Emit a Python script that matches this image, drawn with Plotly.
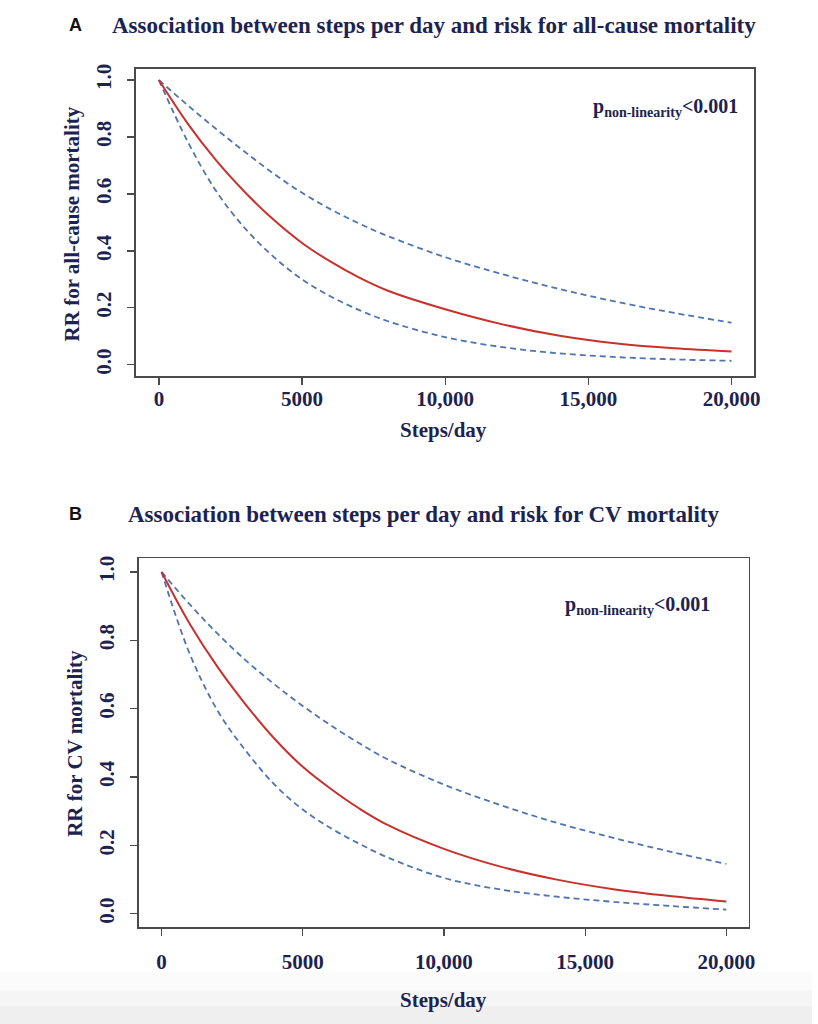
import plotly.graph_objects as go

W, H = 818, 1024

# ---------------- data ----------------
steps = [0, 1000, 2000, 3000, 4000, 5000, 6000, 7000, 8000, 10000, 12000, 14000, 16000, 18000, 20000]

# Panel A: all-cause mortality
rr_all = [1.0, 0.848, 0.718, 0.607, 0.51, 0.428, 0.362, 0.306, 0.26, 0.195, 0.142, 0.102, 0.075, 0.058, 0.047]
rr_all_upper = [1.0, 0.912, 0.828, 0.748, 0.672, 0.604, 0.546, 0.496, 0.452, 0.378, 0.318, 0.266, 0.221, 0.182, 0.148]
rr_all_lower = [1.0, 0.785, 0.61, 0.48, 0.38, 0.30, 0.24, 0.192, 0.153, 0.097, 0.062, 0.04, 0.027, 0.019, 0.014]

# Panel B: CV mortality
rr_cv = [1.0, 0.848, 0.72, 0.61, 0.512, 0.43, 0.365, 0.308, 0.26, 0.19, 0.138, 0.10, 0.072, 0.052, 0.036]
rr_cv_upper = [1.0, 0.905, 0.818, 0.74, 0.671, 0.608, 0.551, 0.499, 0.452, 0.378, 0.318, 0.266, 0.222, 0.182, 0.146]
rr_cv_lower = [1.0, 0.76, 0.592, 0.475, 0.378, 0.305, 0.25, 0.205, 0.165, 0.105, 0.071, 0.05, 0.035, 0.023, 0.012]

x_ticks = [0, 5000, 10000, 15000, 20000]
x_tick_labels = ["0", "5000", "10,000", "15,000", "20,000"]
y_ticks = [0.0, 0.2, 0.4, 0.6, 0.8, 1.0]
y_tick_labels = ["0.0", "0.2", "0.4", "0.6", "0.8", "1.0"]

title_a = "Association between steps per day and risk for all-cause mortality"
title_b = "Association between steps per day and risk for CV mortality"
ylab_a = "RR for all-cause mortality"
ylab_b = "RR for CV mortality"
xlab = "Steps/day"
p_text = "p<sub>non-linearity</sub><0.001"

# ---------------- style ----------------
NAVY = "#1d2350"
RED = "#c8312c"
BLUE = "#4f74b0"
AXC = "#4a4a4a"
SERIF = "Liberation Serif, Times New Roman, serif"


def px(x):
    return x / W


def py(y):
    return 1 - y / H


def bold(labels):
    return ["<b>" + t + "</b>" for t in labels]


fig = go.Figure()

panels = [
    ("x", "y", rr_all, rr_all_upper, rr_all_lower),
    ("x2", "y2", rr_cv, rr_cv_upper, rr_cv_lower),
]
for xa, ya, mid, up, lo in panels:
    for vals, color, dash in [(up, BLUE, "6px,4px"), (lo, BLUE, "6px,4px"), (mid, RED, "solid")]:
        fig.add_trace(go.Scatter(
            x=steps, y=vals, xaxis=xa, yaxis=ya, mode="lines",
            line=dict(color=color, width=2 if dash == "solid" else 1.8, dash=dash,
                      shape="spline", smoothing=1.0),
            showlegend=False, hoverinfo="skip"))

axis_common = dict(
    showgrid=False, zeroline=False, showline=True, mirror=True,
    linecolor=AXC, linewidth=1.5, ticks="outside", ticklen=7, tickwidth=1.3,
    tickcolor=AXC, tickfont=dict(family=SERIF, size=21, color=NAVY),
)

fig.update_layout(
    width=W, height=H, margin=dict(l=0, r=0, t=0, b=0),
    paper_bgcolor="white", plot_bgcolor="white",
    xaxis=dict(domain=[px(137), px(760)], range=[-800, 20800], anchor="y",
               tickvals=x_ticks, ticktext=bold(x_tick_labels), ticklabelstandoff=-4, **axis_common),
    yaxis=dict(domain=[py(373), py(64)], range=[-0.04, 1.04], anchor="x",
               tickvals=y_ticks, ticktext=bold(y_tick_labels), tickangle=-90, ticklabelstandoff=8, **axis_common),
    xaxis2=dict(domain=[px(140), px(754.5)], range=[-800, 20800], anchor="y2",
                tickvals=x_ticks, ticktext=bold(x_tick_labels), ticklabelstandoff=8, **axis_common),
    yaxis2=dict(domain=[py(927), py(556)], range=[-0.04, 1.04], anchor="x2",
                tickvals=y_ticks, ticktext=bold(y_tick_labels), tickangle=-90, ticklabelstandoff=8, **axis_common),
)

ann = []
# panel letters
ann.append(dict(x=px(76), y=py(20), text="<b>A</b>", font=dict(family="Liberation Sans, Arial", size=18, color="#111111")))
ann.append(dict(x=px(76), y=py(511), text="<b>B</b>", font=dict(family="Liberation Sans, Arial", size=18, color="#111111")))
# titles
ann.append(dict(x=px(437), y=py(21), text="<b>" + title_a + "</b>", font=dict(family=SERIF, size=23, color=NAVY)))
ann.append(dict(x=px(427), y=py(512), text="<b>" + title_b + "</b>", font=dict(family=SERIF, size=23, color=NAVY)))
# y axis titles
ann.append(dict(x=px(72), y=py(220), text="<b>" + ylab_a + "</b>", textangle=-90, font=dict(family=SERIF, size=21, color=NAVY)))
ann.append(dict(x=px(76), y=py(742), text="<b>" + ylab_b + "</b>", textangle=-90, font=dict(family=SERIF, size=21, color=NAVY)))
# x axis titles
ann.append(dict(x=px(447), y=py(427), text="<b>" + xlab + "</b>", font=dict(family=SERIF, size=21, color=NAVY)))
ann.append(dict(x=px(447), y=py(1000), text="<b>" + xlab + "</b>", font=dict(family=SERIF, size=21, color=NAVY)))
# p-values
ann.append(dict(x=px(670), y=py(103), text="<b>" + p_text + "</b>", font=dict(family=SERIF, size=20, color=NAVY)))
ann.append(dict(x=px(642), y=py(603), text="<b>" + p_text + "</b>", font=dict(family=SERIF, size=20, color=NAVY)))

for a in ann:
    a.update(xref="paper", yref="paper", showarrow=False, xanchor="center", yanchor="middle")
fig.update_layout(annotations=ann)

# faint grey gradient at the bottom of the scan
for y0, y1, c in [(972, 990, "#fbfbfb"), (990, 1006, "#f5f5f5"), (1006, 1024, "#efefef")]:
    fig.add_shape(type="rect", xref="paper", yref="paper", x0=0, x1=1, y0=py(y1), y1=py(y0),
                  fillcolor=c, line=dict(width=0), layer="below")

fig.write_html("out.html", config={"displayModeBar": False, "staticPlot": True},
               post_script="document.body.style.margin='0';document.body.style.overflow='hidden';")
